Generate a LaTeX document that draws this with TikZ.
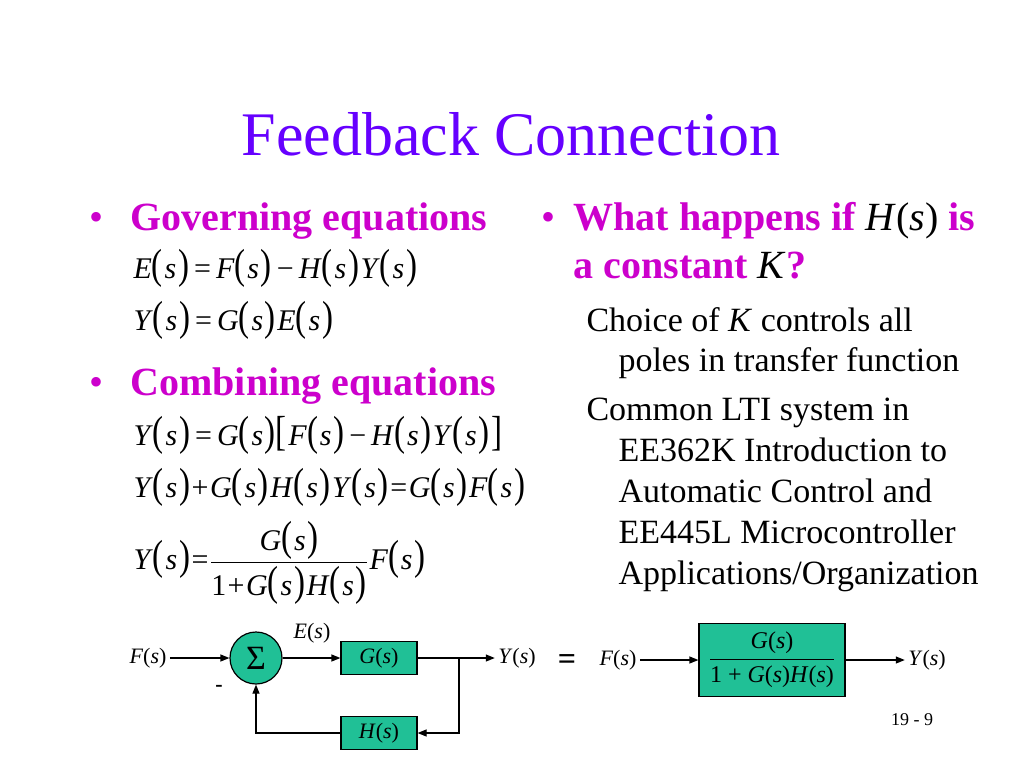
\documentclass[tikz,border=0pt]{standalone}
\usepackage{amsmath}
\usepackage{fontspec}
\setmainfont{Liberation Serif}
\usetikzlibrary{arrows.meta,positioning}
\usepackage{xcolor}
\definecolor{titleblue}{RGB}{102,0,255}
\definecolor{headpink}{RGB}{204,0,204}
\definecolor{boxgreen}{RGB}{32,192,150}
\newcommand\lp{\scalebox{1.1}[1.4]{(}\hspace{0.06em}}
\newcommand\rp{\hspace{0.06em}\scalebox{1.1}[1.4]{)}}
\newcommand\fof[2]{\textit{#1}\lp\textit{#2}\rp}
\newcommand\fsz[1]{\fontsize{#1}{#1}\selectfont}
\newcommand\pg{\hspace{0.05em}}

\begin{document}
\begin{tikzpicture}[x=1pt,y=-1pt,
    head/.style={anchor=base west,text=headpink,font=\fsz{40}\bfseries},
    dot/.style={anchor=base,text=headpink,font=\fsz{40}},
    eqn/.style={anchor=base west,font=\fsz{30}},
    body/.style={anchor=base west,font=\fsz{34}},
    blk/.style={draw,line width=1.2pt,fill=boxgreen,minimum width=76pt,minimum height=33pt,inner sep=0pt,font=\fsz{22}},
    sig/.style={-{Triangle[length=9pt,width=7pt]},line width=1.2pt},
    lbl/.style={font=\fsz{22}}]
    \useasboundingbox (0,0) rectangle (1024,768);
    \fill[white] (0,0) rectangle (1024,768);

    \node[anchor=base,text=titleblue,font=\fsz{62}] (title) at (511,155) {Feedback Connection};

    % left column
    \node[dot] (dotA) at (97,230) {•};
    \node[head] (gov) at (127,230) {Governing equations};
    \node[eqn] (eqA) at (130,278) {\fof{E}{s}\,=\,\fof{F}{s}\,−\,\fof{H}{s}\pg\fof{Y}{s}};
    \node[eqn] (eqB) at (130,330) {\fof{Y}{s}\,=\,\fof{G}{s}\pg\fof{E}{s}};
    \node[dot] (dotB) at (97,395) {•};
    \node[head] (comb) at (127,395) {Combining equations};
    \node[eqn] (eqC) at (130,445) {\fof{Y}{s}\,=\,\fof{G}{s}\scalebox{1.1}[1.4]{[}\pg\fof{F}{s}\,−\,\fof{H}{s}\pg\fof{Y}{s}\pg\scalebox{1.1}[1.4]{]}};
    \node[eqn] (eqD) at (130,497) {\fof{Y}{s}\pg+\pg\fof{G}{s}\pg\fof{H}{s}\pg\fof{Y}{s}\pg=\pg\fof{G}{s}\pg\fof{F}{s}};
    \node[eqn] (eqE) at (130,569) {\fof{Y}{s}\pg=\pg$\dfrac{\mbox{\fof{G}{s}}}{\mbox{1\pg+\pg\fof{G}{s}\pg\fof{H}{s}}}$\pg\fof{F}{s}};

    % right column
    \node[dot] (dotC) at (548,230) {•};
    \node[head] (what) at (570,230) {What happens if {\color{black}\mdseries\textit{H}(\textit{s})} is};
    \node[head] (what2) at (570,278) {a constant {\color{black}\mdseries\textit{K}}?};
    \node[body] (choice) at (583,331) {Choice of \textit{K} controls all};
    \node[body] (poles) at (615,371) {poles in transfer function};
    \node[body] (common) at (583,420) {Common LTI system in};
    \node[body] (ee1) at (615,461) {EE362K Introduction to};
    \node[body] (ee2) at (615,502) {Automatic Control and};
    \node[body] (ee3) at (615,543) {EE445L Microcontroller};
    \node[body] (ee4) at (615,584) {Applications/Organization};

    % feedback loop
    \node[lbl] (fin) at (148,658) {\textit{F}(\textit{s})};
    \node[circle,draw,line width=1.2pt,fill=boxgreen,minimum size=52pt,inner sep=0pt,font=\fsz{34}] (sum) at (256,658) {Σ};
    \node[lbl] (err) at (312,633) {\textit{E}(\textit{s})};
    \node[font=\fsz{22}\bfseries] (minus) at (219,688) {-};
    \node[blk] (gbox) at (379,658) {\textit{G}(\textit{s})};
    \node[blk] (hbox) at (379,733) {\textit{H}(\textit{s})};
    \node[lbl] (yout) at (517,658) {\textit{Y}(\textit{s})};
    \coordinate (split) at (459,658);
    \draw[sig] (fin) -- (sum);
    \draw[sig] (sum) -- (gbox);
    \draw[line width=1.2pt] (gbox) -- (split);
    \draw[sig] (split) -- (yout);
    \draw[sig] (split) |- (hbox);
    \draw[sig] (hbox) -| (sum);

    % closed loop
    \node[font=\fsz{32}\bfseries] (same) at (567,662) {=};
    \node[lbl] (fin2) at (618,660) {\textit{F}(\textit{s})};
    \node[blk,minimum width=146pt,minimum height=73pt,font=\fsz{24}] (tfbox) at (772,660)
        {$\dfrac{\mbox{\textit{G}(\textit{s})}}{\mbox{1 + \textit{G}(\textit{s})\textit{H}(\textit{s})}}$};
    \node[lbl] (yout2) at (927,660) {\textit{Y}(\textit{s})};
    \draw[sig] (fin2) -- (tfbox);
    \draw[sig] (tfbox) -- (yout2);

    \node[font=\fsz{18}] (pgnum) at (912,720) {19 - 9};
\end{tikzpicture}
\end{document}
